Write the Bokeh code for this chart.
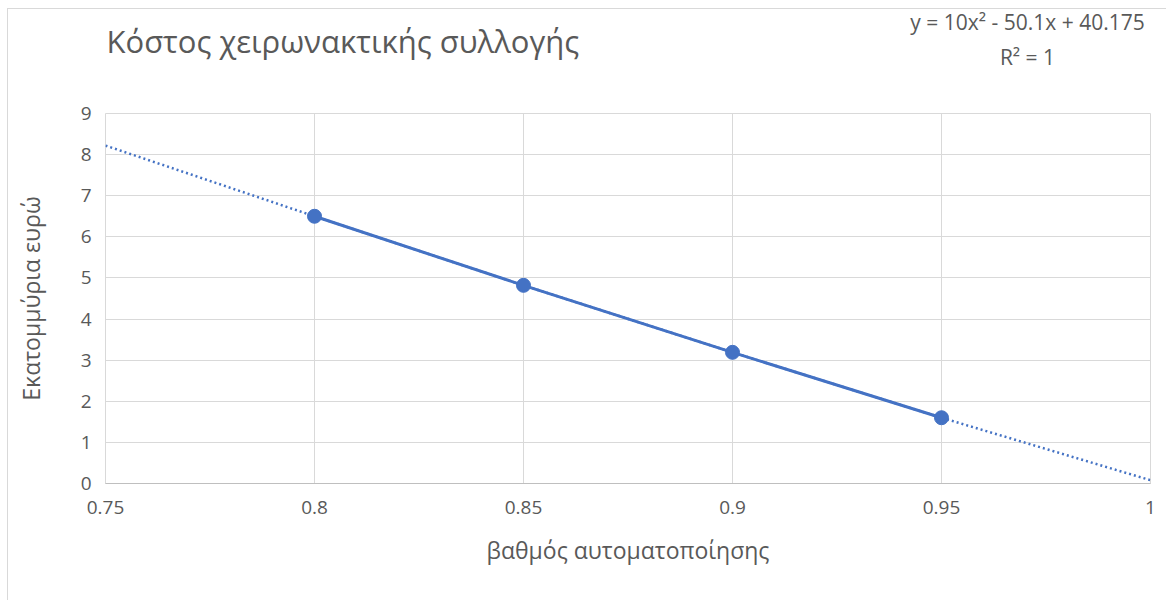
from bokeh.plotting import figure
from bokeh.models import Range1d, FixedTicker
from bokeh.layouts import column
from bokeh.core.properties import value
from bokeh.embed import file_html
from bokeh.resources import INLINE

# Data
x_vals = [0.8, 0.85, 0.9, 0.95]
y_vals = [6.5, 4.82, 3.19, 1.6]
trend_x = [0.75, 0.8, 0.85, 0.9, 0.95, 1.0]
trend_y = [8.22, 6.5, 4.82, 3.19, 1.6, 0.08]
x_ticks = [0.75, 0.8, 0.85, 0.9, 0.95, 1.0]
x_tick_labels = ["0.75", "0.8", "0.85", "0.9", "0.95", "1"]
y_ticks = [0, 1, 2, 3, 4, 5, 6, 7, 8, 9]
title_text = "Κόστος χειρωνακτικής συλλογής"
eq_text = "y = 10x² - 50.1x + 40.175"
r2_text = "R² = 1"
x_title = "βαθμός αυτοματοποίησης"
y_title = "Εκατομμύρια ευρώ"

FONT = "Open Sans"
BLUE = "#4472C4"
GRID = "#d9d9d9"
TXT = "#595959"

W, H = 1166, 600
OX, OY = 8, 9              # content offset inside the page (after the outer border)
CW = W - OX
HEAD_BOTTOM = 101          # page y where the header strip ends
HH = HEAD_BOTTOM - OY      # header height
MH = H - HEAD_BOTTOM       # main figure height
PL, PR = 105, 1150         # frame left / right in page px
FT, FB = 113, 483          # frame top / bottom in page px

# ---- header strip (title + trendline equation); its frame aligns with the main frame ----
head = figure(width=CW, height=HH, output_backend="svg", toolbar_location=None,
              x_range=Range1d(PL, PR), y_range=Range1d(HEAD_BOTTOM, OY),
              min_border=0, x_axis_type=None, y_axis_type=None)
head.outline_line_color = None
head.grid.visible = False
head.background_fill_color = "white"
head.border_fill_color = "white"

head.text(x=[106], y=[40], text=[title_text], text_font=value(FONT),
          text_font_size="31px", text_color=TXT, text_baseline="middle", text_align="left")
head.text(x=[1027, 1027], y=[21, 56], text=[eq_text, r2_text],
          text_font=value(FONT), text_font_size="21px", text_color=TXT,
          text_baseline="middle", text_align="center")

# ---- main chart ----
p = figure(width=CW, height=MH, output_backend="svg", toolbar_location=None,
           x_range=Range1d(0.75, 1.0), y_range=Range1d(0, 9),
           min_border_left=PL - OX, min_border_right=W - PR,
           min_border_top=FT - HEAD_BOTTOM, min_border_bottom=H - FB)
p.background_fill_color = "white"
p.border_fill_color = "white"
p.outline_line_color = GRID
p.outline_line_width = 1

p.xaxis.ticker = FixedTicker(ticks=x_ticks)
p.xaxis.major_label_overrides = {t: l for t, l in zip(x_ticks, x_tick_labels)}
p.yaxis.ticker = FixedTicker(ticks=y_ticks)

for ax in (p.xaxis[0], p.yaxis[0]):
    ax.major_tick_line_color = None
    ax.minor_tick_line_color = None
    ax.major_label_text_font = FONT
    ax.major_label_text_font_size = "19px"
    ax.major_label_text_color = TXT
    ax.axis_label_text_font = FONT
    ax.axis_label_text_font_size = "23px"
    ax.axis_label_text_color = TXT
    ax.axis_label_text_font_style = "normal"

p.xaxis.axis_line_color = "#bfbfbf"
p.xaxis.major_label_standoff = 11
p.xaxis.axis_label = x_title
p.xaxis.axis_label_standoff = 17
p.yaxis.axis_line_color = None
p.yaxis.major_label_standoff = 8
p.yaxis.axis_label = y_title
p.yaxis.axis_label_standoff = 31

p.xgrid.grid_line_color = GRID
p.ygrid.grid_line_color = GRID
p.xgrid.ticker = FixedTicker(ticks=x_ticks)
p.ygrid.ticker = FixedTicker(ticks=y_ticks)

p.line(trend_x, trend_y, line_color=BLUE, line_width=2.5, line_dash="2 3")
p.line(x_vals, y_vals, line_color=BLUE, line_width=3)
p.scatter(x_vals, y_vals, size=14, fill_color=BLUE, line_color=BLUE)

layout = column(head, p, spacing=0)
layout.margin = (OY - 1, 0, 0, OX - 1)
layout.styles = {"border-left": "1px solid #d9d9d9", "border-top": "1px solid #d9d9d9"}

open("out.html", "w").write(file_html(layout, INLINE))
